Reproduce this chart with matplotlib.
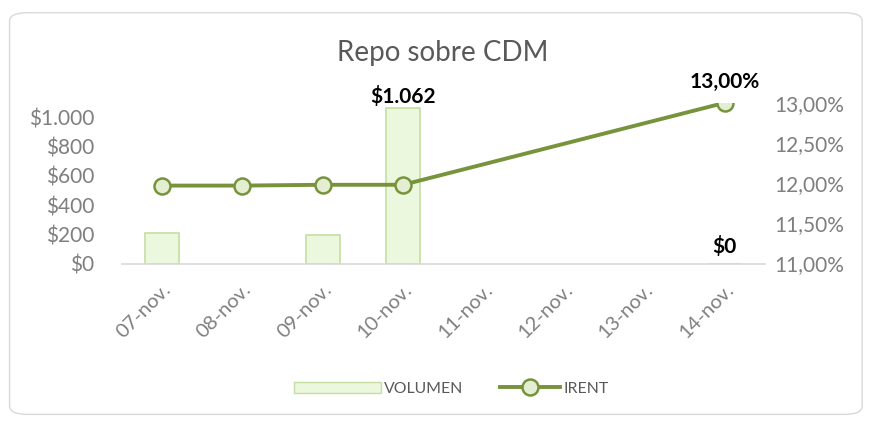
import numpy as np
import matplotlib.pyplot as plt
from matplotlib.patches import FancyBboxPatch, Patch, Rectangle
from matplotlib.lines import Line2D
from matplotlib.legend_handler import HandlerPatch
from matplotlib.ticker import FuncFormatter

plt.rcParams['font.family'] = ['Lato', 'DejaVu Sans']

# datos
fechas = ["07-nov.", "08-nov.", "09-nov.", "10-nov.", "11-nov.", "12-nov.", "13-nov.", "14-nov."]
volumen = [210, None, 192, 1062, None, None, None, 0]
irent = [11.97, 11.97, 11.98, 11.98, None, None, None, 13.00]

line_col = '#77933c'
gris = '#7f7f7f'

fig = plt.figure(figsize=(8.7, 4.25), dpi=100)
marco = FancyBboxPatch((0.011, 0.025), 0.98, 0.945, boxstyle="round,pad=0,rounding_size=0.02",
                       transform=fig.transFigure, facecolor='white', edgecolor='#d9d9d9', lw=1, zorder=-10)
fig.patches.append(marco)

ax = fig.add_axes([0.140, 0.380, 0.739, 0.378])
ax2 = ax.twinx()
ax.patch.set_visible(False)
ax2.patch.set_visible(False)

x = np.arange(len(fechas))
bx = [i for i, v in enumerate(volumen) if v is not None]
bv = [v for v in volumen if v is not None]
ax.bar(bx, bv, width=0.42, color='#ecf8de', edgecolor='#c6dea3', lw=1.2, zorder=2)

lx = [i for i, v in enumerate(irent) if v is not None]
lv = [v for v in irent if v is not None]
ax2.plot(lx, lv, color=line_col, lw=2.8, marker='o', ms=11.5, mfc='#e4eed3', mec=line_col, mew=1.8, zorder=3)

ax.set_xlim(-0.5, len(fechas) - 0.5)
ax.set_ylim(0, 1100)
ax.set_yticks(range(0, 1001, 200))
ax.yaxis.set_major_formatter(FuncFormatter(lambda v, p: '$' + f'{int(v):,}'.replace(',', '.')))
ax2.set_ylim(11, 13)
ax2.set_yticks([11, 11.5, 12, 12.5, 13])
ax2.yaxis.set_major_formatter(FuncFormatter(lambda v, p: f'{v:.2f}%'.replace('.', ',')))

ax.set_xticks(x)
ax.set_xticklabels(fechas, rotation=45, ha='right', rotation_mode='anchor')

for a in (ax, ax2):
    for s in a.spines.values():
        s.set_visible(False)
    a.tick_params(length=0, colors=gris, labelsize=15)
ax.spines['bottom'].set_visible(True)
ax.spines['bottom'].set_color('#d9d9d9')
ax.spines['bottom'].set_linewidth(1.2)
ax.tick_params(axis='x', pad=12, labelsize=14.5)
ax.tick_params(axis='y', pad=20)
ax2.tick_params(axis='y', pad=7)

# etiquetas de datos
ax.text(3, 1062 + 8, '$1.062', ha='center', va='bottom', fontsize=15, fontweight='bold', color='black')
ax.text(7, 45, '$0', ha='center', va='bottom', fontsize=15, fontweight='bold', color='black')
ax2.text(7, 13.0 + 0.14, '13,00%', ha='center', va='bottom', fontsize=15, fontweight='bold', color='black')

fig.text(0.509, 0.876, 'Repo sobre CDM', ha='center', va='center', fontsize=20, color='#595959')


# cuadrito de la leyenda mas ancho, como en excel
def rect_ancho(legend, orig_handle, xdescent, ydescent, width, height, fontsize):
    return Rectangle((-xdescent - 0.45 * width, -ydescent), 1.45 * width, height)


handles = [Patch(facecolor='#ecf8de', edgecolor='#c6dea3', label='VOLUMEN'),
           Line2D([], [], color=line_col, lw=2.8, marker='o', ms=11.5, mfc='#e4eed3', mec=line_col, mew=1.8, label='IRENT')]
fig.legend(handles=handles, loc='center', bbox_to_anchor=(0.534, 0.085), ncol=2, frameon=False,
           fontsize=11.4, labelcolor='#595959', handlelength=3.8, columnspacing=2.3, handletextpad=0.2,
           handler_map={Patch: HandlerPatch(patch_func=rect_ancho)})

fig.savefig('out.png', dpi=100)
